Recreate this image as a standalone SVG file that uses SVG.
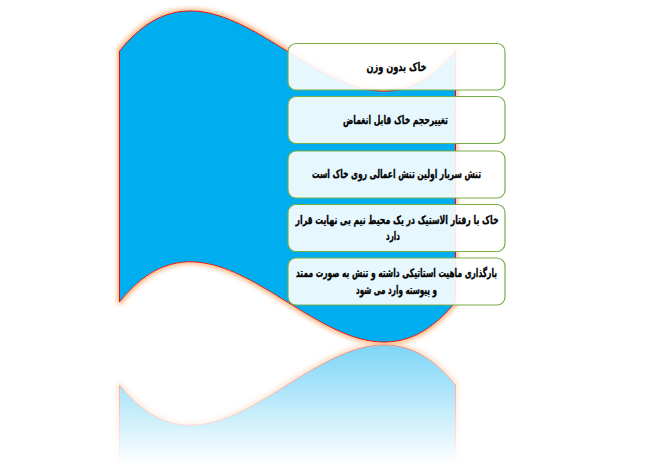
<svg xmlns="http://www.w3.org/2000/svg" width="649" height="472" viewBox="0 0 649 472">
<style>
.box{fill:#fff;fill-opacity:0.9;stroke:#78AE48;stroke-width:1.2}
.t{font-family:"DejaVu Sans",sans-serif;font-weight:bold;font-size:11.5px;fill:#000;stroke:#000;stroke-width:0.3;text-anchor:middle;direction:rtl}
</style>
<defs>
<path id="flag" d="M119.5,51 C231,-88 343,190 455.5,51 L455.5,302 C343,441 231,163 119.5,302 Z"/>
<filter id="glow" x="-10%" y="-10%" width="120%" height="120%">
<feMorphology in="SourceAlpha" operator="dilate" radius="2" result="d"/>
<feGaussianBlur in="d" stdDeviation="2" result="b"/>
<feFlood flood-color="#F9A86A" flood-opacity="0.75"/>
<feComposite in2="b" operator="in" result="g"/>
<feMerge><feMergeNode in="g"/><feMergeNode in="SourceGraphic"/></feMerge>
</filter>
<linearGradient id="fade" gradientUnits="userSpaceOnUse" x1="0" y1="343" x2="0" y2="465">
<stop offset="0" stop-color="#fff" stop-opacity="0.52"/>
<stop offset="1" stop-color="#fff" stop-opacity="0"/>
</linearGradient>
<mask id="m" maskUnits="userSpaceOnUse" x="0" y="0" width="649" height="472">
<rect x="0" y="343" width="649" height="129" fill="url(#fade)"/>
</mask>
</defs>
<g id="reflection" mask="url(#m)">
<use href="#flag" transform="translate(0,687) scale(1,-1)" fill="#00AEEF" stroke="#FF0000" stroke-width="1" filter="url(#glow)"/>
</g>
<g id="wave">
<use href="#flag" fill="#00AEEF" stroke="#FF0000" stroke-width="1" filter="url(#glow)"/>
</g>
<g id="connectors"></g>
<g id="node1">
<rect class="box" x="288" y="43.5" width="217" height="46.5" rx="8"/>
<text class="t" x="396.5" y="71" textLength="60" lengthAdjust="spacingAndGlyphs">خاک بدون وزن</text>
</g>
<g id="node2">
<rect class="box" x="288" y="96.5" width="217" height="47" rx="8"/>
<text class="t" x="395.5" y="124" textLength="105" lengthAdjust="spacingAndGlyphs">تغییرحجم خاک قابل انغماض</text>
</g>
<g id="node3">
<rect class="box" x="288" y="151" width="217" height="47" rx="8"/>
<text class="t" x="396.5" y="178" textLength="169" lengthAdjust="spacingAndGlyphs">تنش سربار اولین تنش اعمالی روی خاک است</text>
</g>
<g id="node4">
<rect class="box" x="288" y="204.5" width="217" height="47" rx="8"/>
<text class="t" x="397" y="223.5" textLength="203" lengthAdjust="spacingAndGlyphs">خاک با رفتار الاستیک در یک محیط نیم بی نهایت قرار</text>
<text class="t" x="393" y="240" textLength="14" lengthAdjust="spacingAndGlyphs">دارد</text>
</g>
<g id="node5">
<rect class="box" x="288" y="258" width="217" height="47" rx="8"/>
<text class="t" x="396.5" y="277" textLength="201" lengthAdjust="spacingAndGlyphs">بارگذاری ماهیت استاتیکی داشته و تنش به صورت ممتد</text>
<text class="t" x="396.5" y="293.5" textLength="81" lengthAdjust="spacingAndGlyphs">و پیوسته وارد می شود</text>
</g>
</svg>
